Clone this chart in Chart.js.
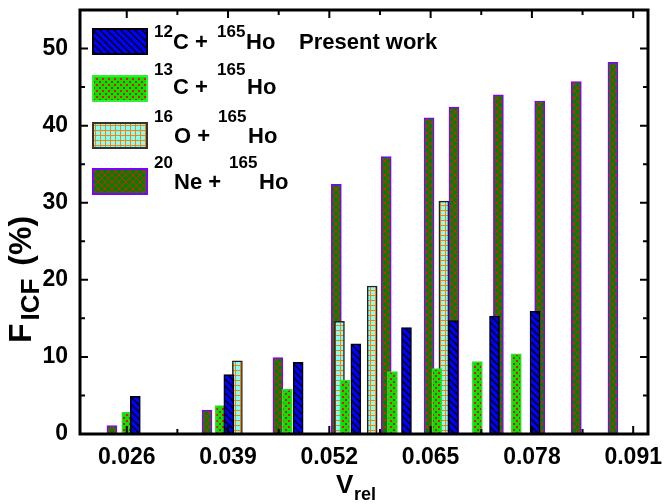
<!DOCTYPE html>
<html>
<head>
<meta charset="utf-8">
<script src="https://cdn.jsdelivr.net/npm/chart.js@4.4.0/dist/chart.umd.min.js"></script>
<style>
  html, body { margin: 0; padding: 0; background: #fff; }
  #wrap { width: 664px; height: 504px; position: relative; }
</style>
</head>
<body>
<div id="wrap"><canvas id="chart" width="664" height="504"></canvas></div>
<script>
// tick labels
const xTicks = [0.026, 0.039, 0.052, 0.065, 0.078, 0.091];
const yTicks = [0, 10, 20, 30, 40, 50];

// 12C + 165Ho (present work)
const c12X = [0.0271, 0.0391, 0.0480, 0.0554, 0.0619, 0.0679, 0.0732, 0.0784];
const c12Y = [4.9, 7.7, 9.3, 11.7, 13.8, 14.7, 15.3, 15.9];
// 13C + 165Ho
const c13X = [0.0260, 0.0380, 0.0466, 0.0540, 0.0601, 0.0658, 0.0710, 0.0760];
const c13Y = [2.8, 3.7, 5.8, 7.0, 8.1, 8.5, 9.4, 10.4];
// 16O + 165Ho
const o16X = [0.0402, 0.0533, 0.0575, 0.0667];
const o16Y = [9.5, 14.6, 19.2, 30.2];
// 20Ne + 165Ho
const ne20X = [0.0241, 0.0363, 0.0454, 0.0529, 0.0593, 0.0648, 0.0680, 0.0737, 0.0790, 0.0837, 0.0884];
const ne20Y = [1.1, 3.1, 9.9, 32.4, 36.0, 41.0, 42.4, 44.0, 43.2, 45.7, 48.2];

const FONT = '"Liberation Sans", Arial, sans-serif';

function pts(xs, ys) {
  return xs.map((x, i) => ({ x: x, y: ys[i] }));
}

// little canvas tiles for the fill patterns
function makePattern(size, draw) {
  const c = document.createElement('canvas');
  c.width = c.height = size;
  const g = c.getContext('2d');
  draw(g, size);
  return g.createPattern(c, 'repeat');
}

const patC12 = makePattern(7, (g, s) => {
  g.fillStyle = '#0000ff';
  g.fillRect(0, 0, s, s);
  g.strokeStyle = '#000';
  g.lineWidth = 1.4;
  g.beginPath();
  g.moveTo(-1, -1); g.lineTo(s + 1, s + 1);
  g.moveTo(-1, s - 1); g.lineTo(1, s + 1);
  g.moveTo(s - 1, -1); g.lineTo(s + 1, 1);
  g.stroke();
});

const patC13 = makePattern(6, (g, s) => {
  g.fillStyle = '#00e600';
  g.fillRect(0, 0, s, s);
  g.fillStyle = '#ff0000';
  g.fillRect(0, 0, 2, 2);
  g.fillRect(3, 3, 2, 2);
});

const patO16 = makePattern(5, (g, s) => {
  g.fillStyle = '#80ffff';
  g.fillRect(0, 0, s, s);
  g.fillStyle = '#ff8000';
  g.fillRect(0, 0, 1, s);
  g.fillRect(0, 0, s, 1);
});

const patNe = makePattern(7, (g, s) => {
  g.fillStyle = '#008000';
  g.fillRect(0, 0, s, s);
  g.strokeStyle = '#ff1010';
  g.lineWidth = 0.9;
  g.beginPath();
  g.moveTo(0, 0); g.lineTo(s, s);
  g.moveTo(s, 0); g.lineTo(0, s);
  g.stroke();
});

// box, inward ticks and axis titles
const framePlugin = {
  id: 'frame',
  afterDraw(chart) {
    const { ctx, chartArea: a, scales } = chart;
    const xs = scales.x, ys = scales.y;
    ctx.save();
    ctx.strokeStyle = '#000';
    ctx.lineWidth = 2;
    ctx.beginPath();
    xTicks.forEach(v => {
      const p = xs.getPixelForValue(v);
      ctx.moveTo(p, a.bottom); ctx.lineTo(p, a.bottom - 8);
      ctx.moveTo(p, a.top); ctx.lineTo(p, a.top + 8);
      const m = v - 0.0065;
      if (m > xs.min) {
        const q = xs.getPixelForValue(m);
        ctx.moveTo(q, a.bottom); ctx.lineTo(q, a.bottom - 5);
        ctx.moveTo(q, a.top); ctx.lineTo(q, a.top + 5);
      }
    });
    yTicks.forEach(v => {
      const p = ys.getPixelForValue(v);
      ctx.moveTo(a.left, p); ctx.lineTo(a.left + 8, p);
      ctx.moveTo(a.right, p); ctx.lineTo(a.right - 8, p);
      const m = ys.getPixelForValue(v + 5);
      ctx.moveTo(a.left, m); ctx.lineTo(a.left + 5, m);
      ctx.moveTo(a.right, m); ctx.lineTo(a.right - 5, m);
    });
    ctx.stroke();
    ctx.lineWidth = 3;
    ctx.strokeRect(a.left, a.top, a.right - a.left, a.bottom - a.top);

    // axis titles
    ctx.fillStyle = '#000';
    ctx.textBaseline = 'alphabetic';
    ctx.textAlign = 'left';
    ctx.font = 'bold 26px ' + FONT;
    ctx.fillText('V', 336, 493);
    ctx.font = 'bold 18px ' + FONT;
    ctx.fillText('rel', 354, 500);

    ctx.translate(31, 343);
    ctx.rotate(-Math.PI / 2);
    ctx.font = 'bold 32px ' + FONT;
    ctx.fillText('F', 0, 0);
    let w = ctx.measureText('F').width;
    ctx.font = 'bold 26px ' + FONT;
    ctx.fillText('ICF', w + 3, 8);
    w += 3 + ctx.measureText('ICF').width;
    ctx.font = 'bold 32px ' + FONT;
    ctx.fillText(' (%)', w + 4, 0);
    ctx.restore();
  }
};

// legend with isotope superscripts
const legendRows = [
  { fill: patC12, border: '#000', top: 29,
    parts: [['12', 154, 37, 1], ['C +', 173, 49, 0], ['165', 217, 37, 1], ['Ho', 246, 49, 0], ['Present work', 299, 49, 0]] },
  { fill: patC13, border: '#33ee33', top: 76,
    parts: [['13', 154, 75, 1], ['C +', 173, 94, 0], ['165', 217, 75, 1], ['Ho', 247, 94, 0]] },
  { fill: patO16, border: '#333', top: 123,
    parts: [['16', 154, 122, 1], ['O +', 174, 143, 0], ['165', 218, 122, 1], ['Ho', 248, 143, 0]] },
  { fill: patNe, border: '#8000ff', top: 169,
    parts: [['20', 154, 168, 1], ['Ne +', 174, 189, 0], ['165', 229, 168, 1], ['Ho', 259, 189, 0]] }
];

const legendPlugin = {
  id: 'isoLegend',
  afterDraw(chart) {
    const ctx = chart.ctx;
    ctx.save();
    legendRows.forEach(r => {
      ctx.fillStyle = r.fill;
      ctx.fillRect(93, r.top, 54, 25);
      ctx.strokeStyle = r.border;
      ctx.lineWidth = 2;
      ctx.strokeRect(93, r.top, 54, 25);
      ctx.fillStyle = '#000';
      ctx.textAlign = 'left';
      ctx.textBaseline = 'alphabetic';
      r.parts.forEach(p => {
        ctx.font = (p[3] ? 'bold 17px ' : 'bold 22px ') + FONT;
        ctx.fillText(p[0], p[1], p[2]);
      });
    });
    ctx.restore();
  }
};

const tickFont = { family: FONT, size: 23, weight: 'bold' };

new Chart(document.getElementById('chart'), {
  type: 'bar',
  data: {
    datasets: [
      { label: '12C + 165Ho Present work', data: pts(c12X, c12Y), backgroundColor: patC12, borderColor: '#000', borderWidth: 1.5 },
      { label: '13C + 165Ho', data: pts(c13X, c13Y), backgroundColor: patC13, borderColor: '#33dd33', borderWidth: 1.5 },
      { label: '16O + 165Ho', data: pts(o16X, o16Y), backgroundColor: patO16, borderColor: '#222', borderWidth: 1.5 },
      { label: '20Ne + 165Ho', data: pts(ne20X, ne20Y), backgroundColor: patNe, borderColor: '#8000ff', borderWidth: 1.5 }
    ]
  },
  options: {
    responsive: false,
    animation: false,
    layout: { padding: { top: 10, right: 16, left: 0, bottom: 0 } },
    datasets: { bar: { barThickness: 10, grouped: false } },
    plugins: { legend: { display: false }, tooltip: { enabled: false } },
    scales: {
      x: {
        type: 'linear', min: 0.0200, max: 0.0929, offset: false,
        grid: { display: false, drawTicks: false }, border: { display: false },
        afterBuildTicks: s => { s.ticks = xTicks.map(v => ({ value: v })); },
        afterFit: s => { s.height = 70; s.paddingLeft = 0; s.paddingRight = 0; },
        ticks: { callback: v => v.toFixed(3), font: tickFont, color: '#000', padding: 10, maxRotation: 0, autoSkip: false }
      },
      y: {
        min: 0, max: 55,
        grid: { display: false, drawTicks: false }, border: { display: false },
        afterBuildTicks: s => { s.ticks = yTicks.map(v => ({ value: v })); },
        afterFit: s => { s.width = 80; s.paddingTop = 0; s.paddingBottom = 0; },
        ticks: { font: tickFont, color: '#000', padding: 12 }
      }
    }
  },
  plugins: [framePlugin, legendPlugin]
});
</script>
</body>
</html>
